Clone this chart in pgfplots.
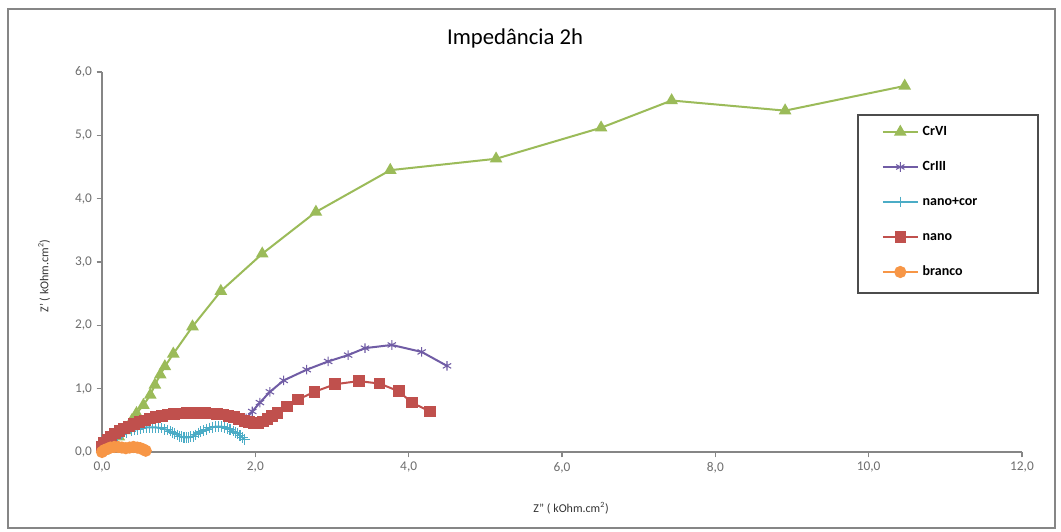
\documentclass[border=0pt]{standalone}
\usepackage{fontspec}
\setmainfont{Carlito}
\usepackage{pgfplots}
\pgfplotsset{compat=1.18}

\definecolor{crvi}{RGB}{155,187,89}
\definecolor{criii}{RGB}{112,92,165}
\definecolor{nanocor}{RGB}{75,172,198}
\definecolor{nano}{RGB}{192,80,77}
\definecolor{branco}{RGB}{247,150,70}
\definecolor{axgray}{RGB}{134,134,134}
\definecolor{txtgray}{RGB}{110,110,110}

\begin{document}
\begin{tikzpicture}
\useasboundingbox (-76.5pt,-60pt) rectangle (719.25pt,339pt);
\fill[white] (-76.5pt,-60pt) rectangle (719.25pt,339pt);
\draw[axgray, line width=1.3pt] (-70.5pt,-57pt) rectangle (714.75pt,332.25pt);
\begin{axis}[
    scale only axis,
    width=690pt, height=285pt,
    xmin=0, xmax=12, ymin=0, ymax=6,
    xtick distance=2, ytick distance=1,
    axis x line*=bottom, axis y line*=left,
    axis line style={axgray, line width=0.9pt, -},
    tick style={axgray, line width=0.9pt},
    tick align=outside, major tick length=4pt,
    minor tick num=0,
    clip=false,
    ticklabel style={font=\fontsize{10}{12}\selectfont, text=txtgray},
    xlabel={Z'' ( kOhm.cm\textsuperscript{2})},
    ylabel={Z' ( kOhm.cm\textsuperscript{2})},
    label style={font=\fontsize{9}{11}\selectfont, text=black!80},
    xlabel style={at={(axis description cs:0.5098,-0.147)}, anchor=center},
    ylabel style={at={(axis description cs:-0.0630,0.463)}, anchor=center},
    legend cell align=left,
    legend image code/.code={\draw[mark repeat=2, mark phase=2, #1] plot coordinates {(0pt,0pt) (13pt,0pt) (26pt,0pt)};},
    legend style={at={(axis description cs:0.8475,0.8630)}, anchor=north west,
        draw=none, fill=none, inner sep=0pt, row sep=14.75pt, column sep=2pt,
        font=\bfseries\fontsize{10.5}{12}\selectfont,
        nodes={inner sep=1pt, text height=7.5pt, text depth=2pt}},
    /pgf/number format/.cd, fixed, fixed zerofill, precision=1, use comma, assume math mode=true
]
% CrVI
\addplot[color=crvi, line width=1.5pt, mark=triangle*, mark size=4pt, mark options={fill=crvi}] coordinates {
 (0.02,0.02) (0.08,0.08) (0.15,0.16) (0.22,0.24) (0.30,0.34) (0.39,0.50) (0.45,0.61)
 (0.54,0.74) (0.63,0.90) (0.69,1.06) (0.76,1.22) (0.82,1.35) (0.93,1.55) (1.18,1.98)
 (1.55,2.54) (2.09,3.13) (2.79,3.79) (3.76,4.45) (5.14,4.63) (6.51,5.12) (7.43,5.55)
 (8.91,5.39) (10.47,5.78)
};
\addlegendentry{CrVI}
% CrIII
\addplot[color=criii, line width=1.5pt, mark=asterisk, mark size=3.6pt, mark options={line width=0.8pt}] coordinates {
 (1.88,0.53) (1.96,0.64) (2.06,0.78) (2.19,0.95) (2.37,1.13) (2.67,1.30) (2.95,1.43)
 (3.21,1.53) (3.43,1.64) (3.78,1.69) (4.17,1.58) (4.50,1.36)
};
\addlegendentry{CrIII}
% nano+cor
\addplot[color=nanocor, line width=1.5pt, mark=+, mark size=4pt, mark options={line width=0.8pt}] coordinates {
 (0.05,0.06) (0.12,0.15) (0.20,0.23) (0.26,0.28) (0.32,0.31) (0.38,0.33) (0.42,0.35)
 (0.46,0.36) (0.50,0.37) (0.54,0.38) (0.58,0.39) (0.62,0.39) (0.66,0.39) (0.70,0.39)
 (0.74,0.38) (0.78,0.38) (0.82,0.36) (0.85,0.35) (0.89,0.33) (0.92,0.31) (0.95,0.29)
 (0.98,0.27) (1.01,0.25) (1.04,0.24) (1.07,0.23) (1.10,0.23) (1.13,0.23) (1.16,0.24)
 (1.19,0.25) (1.22,0.27) (1.26,0.30) (1.29,0.32) (1.33,0.34) (1.36,0.36) (1.40,0.38)
 (1.44,0.39) (1.48,0.40) (1.52,0.40) (1.56,0.40) (1.60,0.39) (1.64,0.37) (1.67,0.36)
 (1.71,0.33) (1.74,0.31) (1.77,0.29) (1.80,0.26) (1.83,0.23) (1.86,0.20)
};
\addlegendentry{nano+cor}
% nano
\addplot[color=nano, line width=1.5pt, mark=square*, mark size=3.6pt, mark options={fill=nano}] coordinates {
 (0.00,0.08) (0.03,0.14) (0.07,0.19) (0.12,0.24) (0.17,0.29) (0.23,0.33) (0.29,0.37)
 (0.35,0.40) (0.42,0.44) (0.49,0.47) (0.56,0.50) (0.63,0.53) (0.70,0.55) (0.78,0.57)
 (0.86,0.59) (0.94,0.60) (1.02,0.61) (1.10,0.62) (1.18,0.62) (1.26,0.62) (1.34,0.62)
 (1.42,0.61) (1.50,0.60) (1.58,0.59) (1.65,0.57) (1.72,0.55) (1.79,0.52) (1.86,0.49)
 (1.92,0.47) (1.98,0.46) (2.04,0.46) (2.10,0.48) (2.16,0.52) (2.22,0.57) (2.29,0.62)
 (2.41,0.72) (2.56,0.83) (2.77,0.95) (3.04,1.07) (3.35,1.12) (3.62,1.08) (3.87,0.96)
 (4.04,0.78) (4.28,0.64)
};
\addlegendentry{nano}
% branco
\addplot[color=branco, line width=1.5pt, mark=*, mark size=3.8pt, mark options={fill=branco}] coordinates {
 (0.00,0.00) (0.03,0.03) (0.07,0.05) (0.11,0.07) (0.16,0.08) (0.21,0.08) (0.26,0.07)
 (0.31,0.06) (0.36,0.07) (0.41,0.08) (0.46,0.07) (0.50,0.06) (0.54,0.04) (0.57,0.02)
};
\addlegendentry{branco}
\node[font=\fontsize{17}{20}\selectfont, anchor=center] at (axis description cs:0.449,1.0895) {Impedância 2h};
\draw[black!70, line width=1.6pt] (axis description cs:0.8217,0.8868) rectangle (axis description cs:1.0174,0.4184);
\end{axis}
\end{tikzpicture}
\end{document}
